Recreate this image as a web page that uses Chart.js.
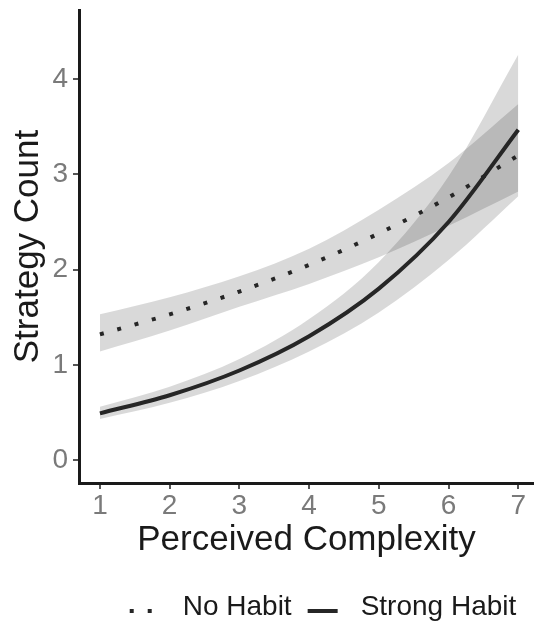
<!DOCTYPE html>
<html>
<head>
<meta charset="utf-8">
<script src="https://cdn.jsdelivr.net/npm/chart.js@4/dist/chart.umd.min.js"></script>
<style>
  html, body { margin: 0; padding: 0; background: #fff; }
  canvas { display: block; }
</style>
</head>
<body>
<canvas id="chart" width="534" height="629"></canvas>
<script>
// values
const complexity = [1, 2, 3, 4, 5, 6, 7];
const noHabit         = [1.32, 1.53, 1.77, 2.05, 2.38, 2.76, 3.20];
const noHabitLow      = [1.14, 1.36, 1.61, 1.85, 2.13, 2.46, 2.82];
const noHabitHigh     = [1.53, 1.71, 1.93, 2.22, 2.63, 3.12, 3.74];
const strongHabit     = [0.49, 0.68, 0.94, 1.30, 1.80, 2.50, 3.47];
const strongHabitLow  = [0.43, 0.60, 0.83, 1.14, 1.55, 2.10, 2.77];
const strongHabitHigh = [0.56, 0.77, 1.06, 1.48, 2.08, 2.98, 4.26];
const xTicks = [1, 2, 3, 4, 5, 6, 7];
const yTicks = [0, 1, 2, 3, 4];

const INK = '#262626';
const BAND = 'rgba(0,0,0,0.15)';
const FONT = '"Liberation Sans", Arial, Helvetica, sans-serif';

Chart.defaults.font.family = FONT;

function pts(ys) { return complexity.map((x, i) => ({ x, y: ys[i] })); }

const lineStyle = {
  borderColor: INK, borderWidth: 4, borderCapStyle: 'butt', pointRadius: 0,
  fill: false, cubicInterpolationMode: 'monotone', order: 0
};
const bandEdge = {
  label: '', borderColor: 'rgba(0,0,0,0)', borderWidth: 0, pointRadius: 0,
  backgroundColor: BAND, cubicInterpolationMode: 'monotone', order: 1
};

// legend under the plot, ggplot style keys
const bottomLegend = {
  id: 'bottomLegend',
  afterDraw(chart) {
    const ctx = chart.ctx;
    const items = chart.data.datasets.filter(d => d.label);
    ctx.save();
    ctx.font = '28px ' + FONT;
    ctx.textBaseline = 'middle';
    const keyW = 30, keyGap = 23, itemGap = 16;
    const widths = items.map(d => keyW + keyGap + ctx.measureText(d.label).width);
    const total = widths.reduce((a, b) => a + b, 0) + itemGap * (items.length - 1);
    let x = 323 - total / 2;
    items.forEach((d, i) => {
      ctx.strokeStyle = d.borderColor;
      ctx.lineWidth = d.borderWidth;
      ctx.lineCap = 'butt';
      ctx.setLineDash(d.borderDash || []);
      ctx.beginPath(); ctx.moveTo(x, 611); ctx.lineTo(x + keyW, 611); ctx.stroke();
      ctx.setLineDash([]);
      ctx.fillStyle = '#1a1a1a';
      ctx.fillText(d.label, x + keyW + keyGap, 607);
      x += widths[i] + itemGap;
    });
    ctx.restore();
  }
};

const axisBorder = { color: '#1a1a1a', width: 3 };
const axisGrid = { drawOnChartArea: false, drawTicks: true, tickLength: 6, color: '#555', lineWidth: 2 };

function noEdgePad(s) {
  s.paddingTop = 0; s.paddingBottom = 0; s.paddingLeft = 0; s.paddingRight = 0;
}

new Chart(document.getElementById('chart'), {
  type: 'line',
  data: {
    datasets: [
      { ...bandEdge, data: pts(noHabitLow), fill: false },
      { ...bandEdge, data: pts(noHabitHigh), fill: '-1' },
      { ...bandEdge, data: pts(strongHabitLow), fill: false },
      { ...bandEdge, data: pts(strongHabitHigh), fill: '-1' },
      { ...lineStyle, label: 'No Habit', data: pts(noHabit), borderDash: [4, 14] },
      { ...lineStyle, label: 'Strong Habit', data: pts(strongHabit) }
    ]
  },
  options: {
    responsive: false,
    animation: false,
    layout: { padding: { top: 10, right: 0, bottom: 0, left: 0 } },
    plugins: { legend: { display: false }, tooltip: { enabled: false } },
    scales: {
      x: {
        type: 'linear', min: 0.7, max: 7.225,
        afterBuildTicks: s => { s.ticks = xTicks.map(v => ({ value: v })); },
        afterFit: s => { s.height = 146; noEdgePad(s); },
        border: axisBorder, grid: axisGrid,
        ticks: { color: '#7a7a7a', font: { size: 28 }, padding: 0, maxRotation: 0 },
        title: { display: true, text: 'Perceived Complexity', color: '#1a1a1a', font: { size: 35 }, padding: { top: 0, bottom: 68 } }
      },
      y: {
        type: 'linear', min: -0.242, max: 4.728,
        afterBuildTicks: s => { s.ticks = yTicks.map(v => ({ value: v })); },
        afterFit: s => { s.width = 79; noEdgePad(s); },
        border: axisBorder, grid: axisGrid,
        ticks: { color: '#7a7a7a', font: { size: 28 }, padding: 5 },
        title: { display: true, text: 'Strategy Count', color: '#1a1a1a', font: { size: 35 }, padding: { top: 7, bottom: 0 } }
      }
    }
  },
  plugins: [bottomLegend]
});
</script>
</body>
</html>
